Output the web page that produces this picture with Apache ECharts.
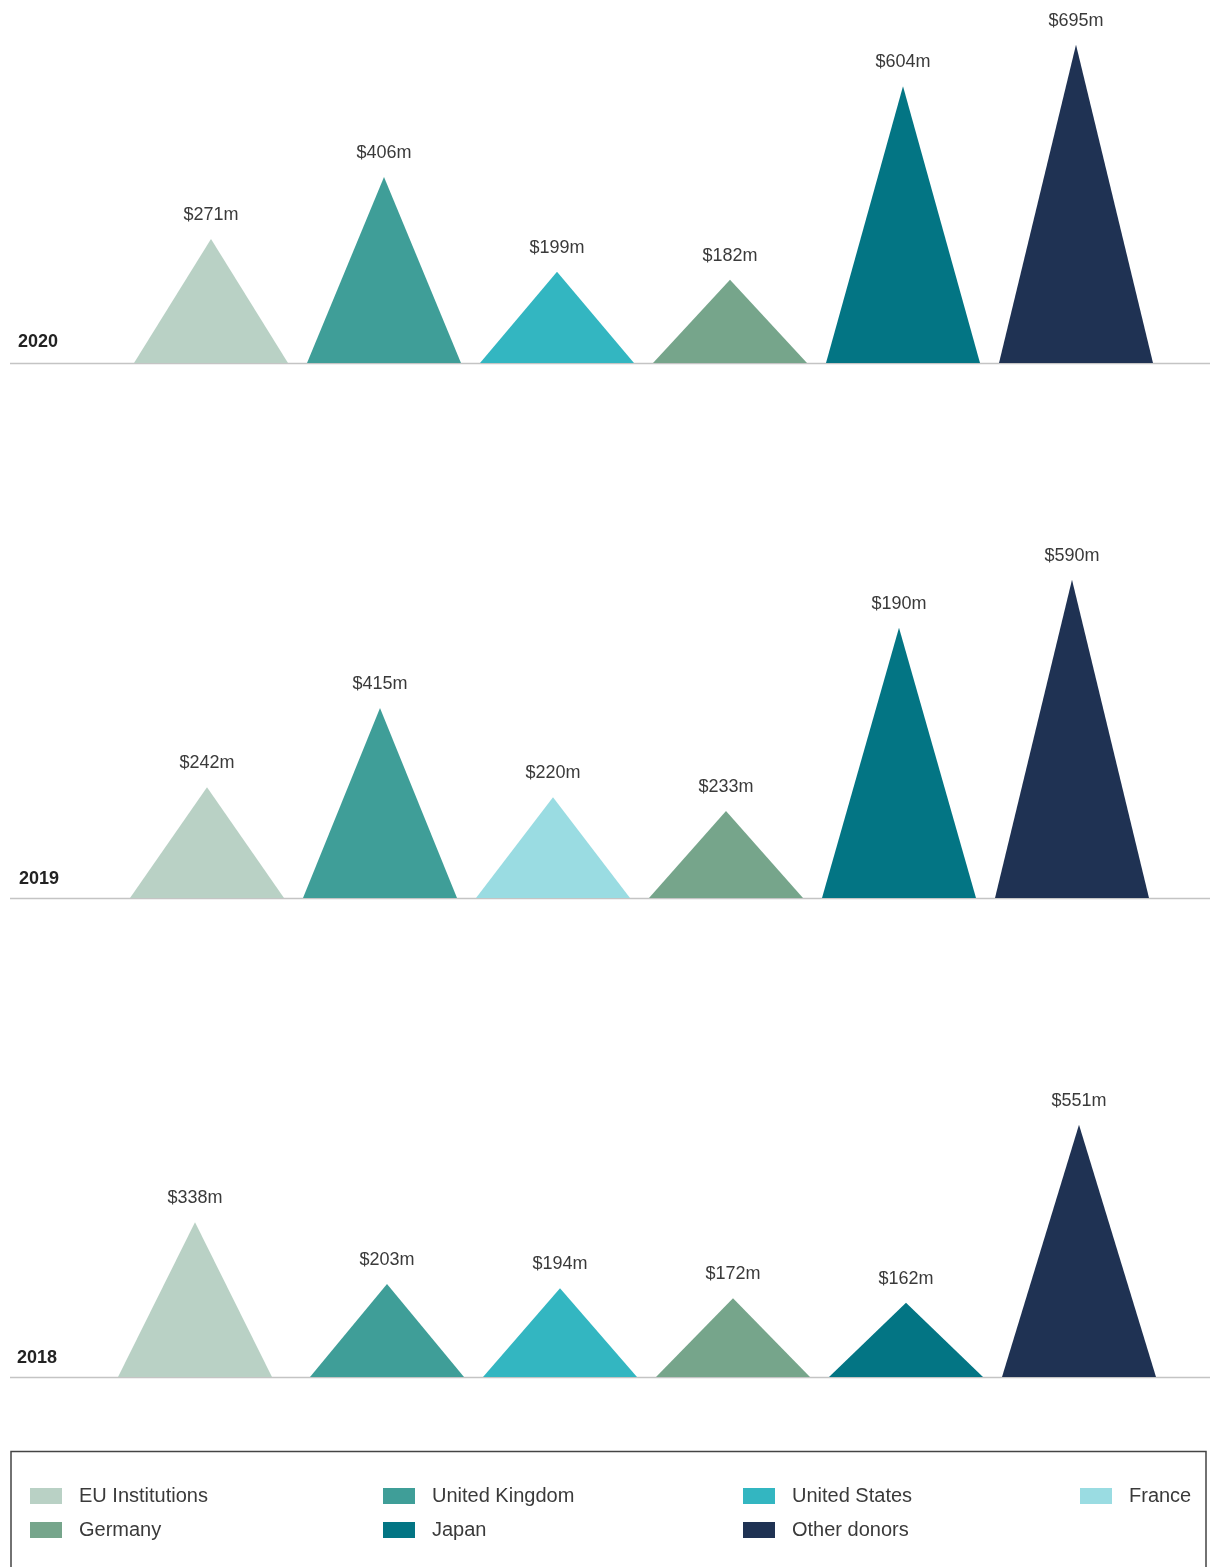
<!DOCTYPE html>
<html><head><meta charset="utf-8">
<script src="https://cdn.jsdelivr.net/npm/echarts@6/dist/echarts.min.js"></script>
<style>html,body{margin:0;padding:0;background:#fff}#c{width:1210px;height:1567px}</style>
</head><body><div id="c"></div>
<script>
// ---- data ----
const years = ['2020', '2019', '2018'];

const donors2020 = ['EU Institutions', 'United Kingdom', 'United States', 'Germany', 'Japan', 'Other donors'];
const values2020 = [271, 406, 199, 182, 604, 695];
const labels2020 = ['$271m', '$406m', '$199m', '$182m', '$604m', '$695m'];

const donors2019 = ['EU Institutions', 'United Kingdom', 'France', 'Germany', 'Japan', 'Other donors'];
// heights as drawn in the picture (printed labels differ for some items)
const values2019 = [242, 415, 220, 190, 590, 695];
const labels2019 = ['$242m', '$415m', '$220m', '$233m', '$190m', '$590m'];

const donors2018 = ['EU Institutions', 'United Kingdom', 'United States', 'Germany', 'Japan', 'Other donors'];
const values2018 = [338, 203, 194, 172, 162, 551];
const labels2018 = ['$338m', '$203m', '$194m', '$172m', '$162m', '$551m'];

const legendColumns = [
  ['EU Institutions', 'Germany'],
  ['United Kingdom', 'Japan'],
  ['United States', 'Other donors'],
  ['France']
];

// ---- styles / layout ----
const colors = {
  'EU Institutions': '#b9d1c5',
  'United Kingdom': '#3f9e98',
  'United States': '#33b6c1',
  'France': '#9adce2',
  'Germany': '#76a58b',
  'Japan': '#037584',
  'Other donors': '#1f3253'
};
const FONT = '"Liberation Sans", Arial, sans-serif';
const PX_PER_UNIT = 0.458;
const Y_MAX = 760;
const GRID_H = Y_MAX * PX_PER_UNIT;
const SLOT_W = 173;
const TRI_W = 154;

const panels = [
  { year: years[0], donors: donors2020, values: values2020, labels: labels2020, baseline: 363, left: 124.5, yearLeft: 18, yearMid: 343, offsets: {} },
  { year: years[1], donors: donors2019, values: values2019, labels: labels2019, baseline: 898, left: 120.5, yearLeft: 19, yearMid: 880, offsets: {} },
  { year: years[2], donors: donors2018, values: values2018, labels: labels2018, baseline: 1377, left: 127.5, yearLeft: 17, yearMid: 1359, offsets: { 0: -19 } }
];

const grid = [], xAxis = [], yAxis = [], series = [], title = [], graphic = [];

panels.forEach((p, pi) => {
  grid.push({ left: p.left, top: p.baseline - GRID_H, width: SLOT_W * 6, height: GRID_H });
  xAxis.push({ type: 'category', gridIndex: pi, data: p.donors, show: false });
  yAxis.push({ type: 'value', gridIndex: pi, min: 0, max: Y_MAX, show: false });
  title.push({
    text: p.year, left: p.yearLeft, top: p.yearMid - 10, padding: 0,
    textStyle: { fontFamily: FONT, fontSize: 18, fontWeight: 'bold', color: '#222' }
  });
  graphic.push({
    type: 'line', silent: true,
    shape: { x1: 10, y1: p.baseline + 0.5, x2: 1210, y2: p.baseline + 0.5 },
    style: { stroke: '#c4c4c4', lineWidth: 1.5 }
  });
  p.donors.forEach((d, slot) => {
    const off = p.offsets[slot] || 0;
    series.push({
      type: 'pictorialBar',
      name: d,
      xAxisIndex: pi, yAxisIndex: pi,
      symbol: 'triangle',
      symbolSize: [TRI_W, '100%'],
      barGap: '-100%',
      barWidth: TRI_W,
      itemStyle: { color: colors[d] },
      label: {
        show: true, position: 'top', distance: 15,
        fontFamily: FONT, fontSize: 18, color: '#3a3a3a',
        formatter: (prm) => p.labels[prm.dataIndex]
      },
      data: p.values.map((v, i) => i === slot
        ? { value: v, symbolOffset: [off, 0], label: { offset: [off, 0] } }
        : '-')
    });
  });
});

const legendLefts = [30, 383, 743, 1080];
const legend = legendColumns.map((col, i) => ({
  data: col,
  orient: 'vertical',
  left: legendLefts[i], top: 1486,
  padding: 0,
  itemWidth: 32, itemHeight: 16, itemGap: 14,
  icon: 'rect',
  selectedMode: false,
  textStyle: { fontFamily: FONT, fontSize: 20, lineHeight: 20, color: '#3a3a3a', padding: [0, 0, 0, 12] }
}));

graphic.push({
  type: 'rect', silent: true,
  shape: { x: 11, y: 1451.5, width: 1195, height: 140 },
  style: { fill: 'none', stroke: '#444', lineWidth: 1.5 }
});

const chart = echarts.init(document.getElementById('c'));
chart.setOption({
  animation: false,
  backgroundColor: '#fff',
  title, grid, xAxis, yAxis, series, legend, graphic
});
</script>
</body></html>
